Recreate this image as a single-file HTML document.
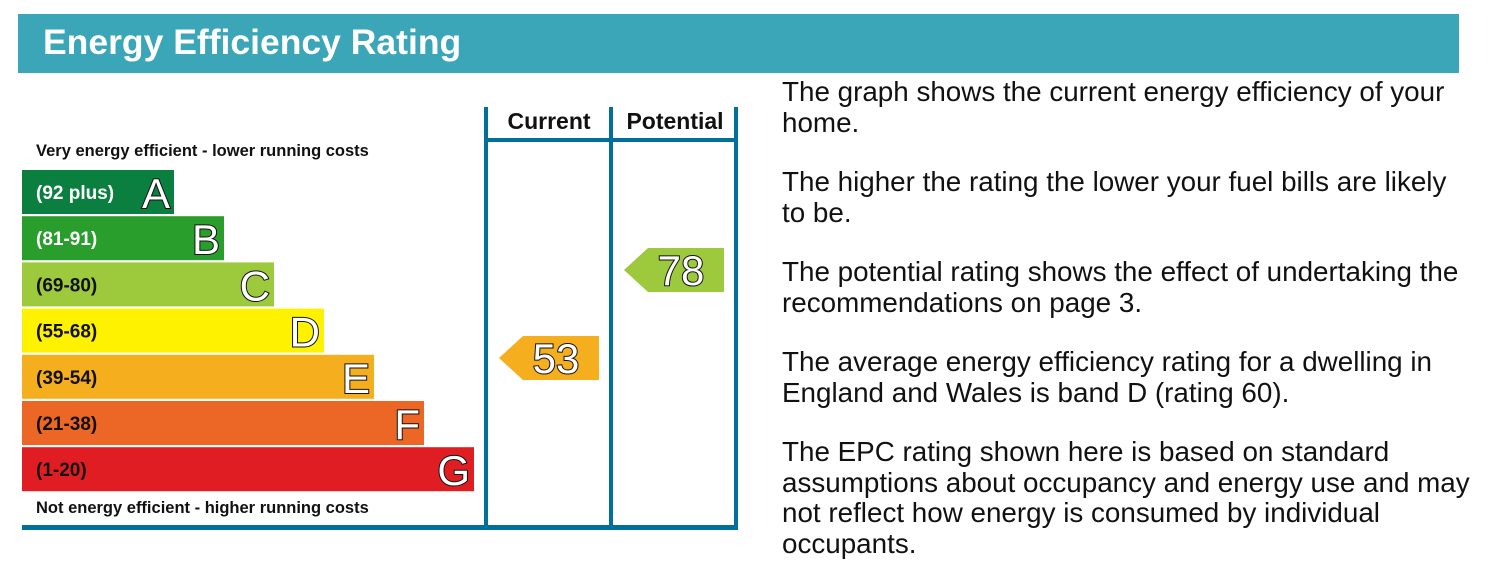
<!DOCTYPE html>
<html><head><meta charset="utf-8"><style>
body{margin:0;width:1496px;height:572px;background:#fff;overflow:hidden;font-family:"Liberation Sans",sans-serif;}
#hdr{position:absolute;left:18px;top:14px;width:1441px;height:59px;background:#3ba6b8;}
#hdr span{position:absolute;left:25px;top:8px;color:#fff;font-weight:bold;font-size:35.5px;}
#txt{position:absolute;left:782px;top:77px;width:690px;font-size:27.8px;line-height:30.5px;color:#111;}
#txt p{margin:0 0 29px 0;}
</style></head><body>
<div id="hdr"><span>Energy Efficiency Rating</span></div>
<svg id="chart" width="760" height="572" style="position:absolute;left:0;top:0" font-family="Liberation Sans, sans-serif"></svg>
<div id="txt">
<p>The graph shows the current energy efficiency of your home.</p>
<p>The higher the rating the lower your fuel bills are likely to be.</p>
<p>The potential rating shows the effect of undertaking the recommendations on page 3.</p>
<p>The average energy efficiency rating for a dwelling in England and Wales is band D (rating 60).</p>
<p>The EPC rating shown here is based on standard assumptions about occupancy and energy use and may not reflect how energy is consumed by individual occupants.</p>
</div>
<script>
const bandLetters=["A","B","C","D","E","F","G"];
const bandRanges=["(92 plus)","(81-91)","(69-80)","(55-68)","(39-54)","(21-38)","(1-20)"];
const bandMins=[92,81,69,55,39,21,1];
const bandColors=["#0b7f40","#2a9e2c","#9dc93c","#fff200","#f4ae1e","#ec6625","#e11d24"];
const currentRating=53;
const potentialRating=78;
const NS="http://www.w3.org/2000/svg";
const svg=document.getElementById('chart');
function mk(t,a,p){const e=document.createElementNS(NS,t);for(const k in a)e.setAttribute(k,a[k]);(p||svg).appendChild(e);return e;}
const x0=22,top0=170,step=46.2,bh=44;
function bandY(i){return top0+i*step;}
function bandW(i){return 152+i*50;}
function bandOf(v){for(let i=0;i<bandMins.length;i++)if(v>=bandMins[i])return i;return 6;}
function ratingY(v){return 358+3.52*(53-v);}
let t=mk('text',{x:36,y:156,'font-size':16.5,'font-weight':'bold',fill:'#111'});t.textContent="Very energy efficient - lower running costs";

t=mk('text',{x:36,y:513,'font-size':16.5,'font-weight':'bold',fill:'#111'});t.textContent="Not energy efficient - higher running costs";

bandLetters.forEach((L,i)=>{
 const y=bandY(i),w=bandW(i);
 const r=mk('rect',{x:x0,y:y,width:w,height:bh,fill:bandColors[i]});
 
 
 const a=mk('text',{x:36,y:y+29,'font-size':19,'font-weight':'bold',fill:(i<2?'#fff':'#111')});a.textContent=bandRanges[i];
 
 
 const b=mk('text',{x:x0+w-4,y:y+38,'font-size':42,'text-anchor':'end',fill:'#fff',stroke:'#111','stroke-width':2,'paint-order':'stroke'});b.textContent=L;
 
 
});
const lc="#00709a";
[486,611,736].forEach(x=>{const l=mk('rect',{x:x-2,y:107,width:4,height:421,fill:lc});});
let hl=mk('rect',{x:486,y:138,width:252,height:4,fill:lc});
let bl=mk('rect',{x:22,y:525,width:716,height:5,fill:lc});
t=mk('text',{x:549,y:129,'font-size':23,'font-weight':'bold','text-anchor':'middle',fill:'#111'});t.textContent="Current";

t=mk('text',{x:675,y:129,'font-size':23,'font-weight':'bold','text-anchor':'middle',fill:'#111'});t.textContent="Potential";

function arrow(v,xl,name){
 const i=bandOf(v),h=bh,y=ratingY(v)-h/2,xr=xl+100;
 const p=mk('polygon',{points:`${xl},${y+h/2} ${xl+24},${y} ${xr},${y} ${xr},${y+h} ${xl+24},${y+h}`,fill:bandColors[i]});
 
 
 const tx=mk('text',{x:xr-43,y:y+37,'font-size':42,'text-anchor':'middle',fill:'#fff',stroke:'#111','stroke-width':2,'paint-order':'stroke'});tx.textContent=v;
 
 
}
arrow(currentRating,499,'current-rating');
arrow(potentialRating,624,'potential-rating');
</script>
</body></html>
